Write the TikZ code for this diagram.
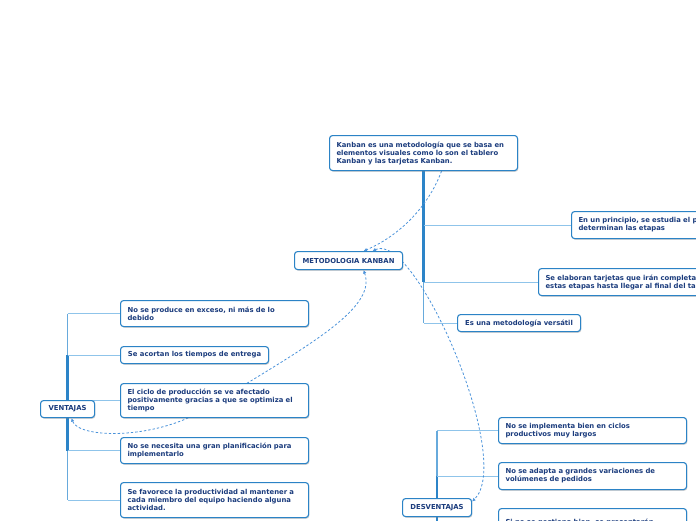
\documentclass[tikz,border=0pt]{standalone}
\usepackage{fontspec}
\newfontfamily\mapsans{DejaVu Sans}
\usetikzlibrary{arrows.meta,calc,positioning,shadows,backgrounds}
\definecolor{mapink}{HTML}{1B3C7D}
\definecolor{mapline}{HTML}{2B83C6}
\definecolor{maptrunk}{HTML}{2C84C8}
\definecolor{mapbranch}{HTML}{8FC4EA}
\definecolor{mapdash}{HTML}{4A92DA}
\tikzset{
  mapbox/.style={draw=mapline,line width=1.1pt,rounded corners=3pt,fill=white,
    text=mapink,font=\mapsans\bfseries\fontsize{6.85}{8}\selectfont,align=left,
    inner xsep=7pt,inner ysep=3pt,anchor=north west,
    drop shadow={shadow xshift=0.8pt,shadow yshift=-1.2pt,opacity=0.35}},
  maptitle/.style={mapbox,align=center,inner xsep=3pt},
  branchline/.style={draw=mapbranch,line width=1pt},
  trunkline/.style={draw=maptrunk,line width=2.2pt},
  trunkthin/.style={draw=mapbranch!60!maptrunk,line width=1.2pt},
  relation/.style={draw=mapdash,line width=0.8pt,dash pattern=on 2.4pt off 2pt},
  relend/.style={relation,-{Latex[length=3.5pt,width=3.5pt]}},
  relboth/.style={relation,{Latex[length=3.5pt,width=3.5pt]}-{Latex[length=3.5pt,width=3.5pt]}},
}
\begin{document}
\begin{tikzpicture}[x=1pt,y=-1pt]
  \useasboundingbox (0,0) rectangle (696,520);
  % central idea and its branches
  \node[mapbox,text width=174pt,minimum height=35pt] (kanban) at (329,135)
    {Kanban es una metodología que se basa en\\elementos visuales como lo son el tablero\\Kanban y las tarjetas Kanban.};
  \node[maptitle,minimum width=108pt,minimum height=18pt] (metodo) at (294,251) {METODOLOGIA KANBAN};
  \node[mapbox,text width=190pt,minimum height=27pt] (principio) at (571,211)
    {En un principio, se estudia el proceso y se\\determinan las etapas};
  \node[mapbox,text width=200pt,minimum height=27pt] (elaboran) at (538,268)
    {Se elaboran tarjetas que irán completando\\estas etapas hasta llegar al final del tablero};
  \node[mapbox,minimum width=123pt,minimum height=17pt] (versatil) at (457,314) {Es una metodología versátil};
  % ventajas
  \node[maptitle,minimum width=54pt,minimum height=17pt] (ventajas) at (40,400) {VENTAJAS};
  \node[mapbox,text width=174pt,minimum height=26pt] (v1) at (120,300)
    {No se produce en exceso, ni más de lo\\debido};
  \node[mapbox,minimum width=148pt,minimum height=17pt] (v2) at (120,346) {Se acortan los tiempos de entrega};
  \node[mapbox,text width=174pt,minimum height=34pt] (v3) at (120,383)
    {El ciclo de producción se ve afectado\\positivamente gracias a que se optimiza el\\tiempo};
  \node[mapbox,text width=174pt,minimum height=26pt] (v4) at (120,437)
    {No se necesita una gran planificación para\\implementarlo};
  \node[mapbox,text width=174pt,minimum height=35pt] (v5) at (120,482)
    {Se favorece la productividad al mantener a\\cada miembro del equipo haciendo alguna\\actividad.};
  % desventajas
  \node[maptitle,minimum width=69pt,minimum height=18pt] (desventajas) at (402,498) {DESVENTAJAS};
  \node[mapbox,text width=174pt,minimum height=26pt] (d1) at (498,417)
    {No se implementa bien en ciclos\\productivos muy largos};
  \node[mapbox,text width=174pt,minimum height=27pt] (d2) at (498,462)
    {No se adapta a grandes variaciones de\\volúmenes de pedidos};
  \node[mapbox,text width=174pt,minimum height=35pt] (d3) at (498,508)
    {Si no se gestiona bien, se presentarán\\retrasos};
  \begin{scope}[on background layer]
    % trunks
    \draw[trunkline] (kanban.south) -- (kanban.south |- elaboran.west);
    \draw[trunkthin] (kanban.south |- elaboran.west) -- (kanban.south |- versatil.west);
    \foreach \n in {principio,elaboran,versatil}
      {\draw[branchline] (\n.west) -- (\n.west -| kanban.south);}
    \draw[trunkthin] (ventajas.center |- v1.west) -- (ventajas.center |- v5.west);
    \draw[trunkline] (ventajas.center |- v2.west) -- (ventajas.center |- v4.west);
    \foreach \n in {v1,v2,v3,v4,v5}
      {\draw[branchline] (\n.west) -- (\n.west -| ventajas.center);}
    \draw[trunkthin] (desventajas.center |- d1.west) -- (desventajas.center |- d2.west);
    \draw[trunkline] (desventajas.center |- d2.west) -- (desventajas.center |- d3.west);
    \foreach \n in {d1,d2,d3}
      {\draw[branchline] (\n.west) -- (\n.west -| desventajas.center);}
    % relations
    \draw[relend] ([xshift=18pt]kanban.south) .. controls (425,215) and (390,240) .. ([xshift=15pt]metodo.north);
    \draw[relboth] ([xshift=24pt]metodo.north) .. controls (415,230) and (515,460) .. ([yshift=6pt]desventajas.east);
    \draw[relboth] ([xshift=15pt]metodo.south) .. controls (378,310) and (300,350) .. (200,412)
      .. controls (150,440) and (78,438) .. ([xshift=4pt]ventajas.south);
  \end{scope}
\end{tikzpicture}
\end{document}
